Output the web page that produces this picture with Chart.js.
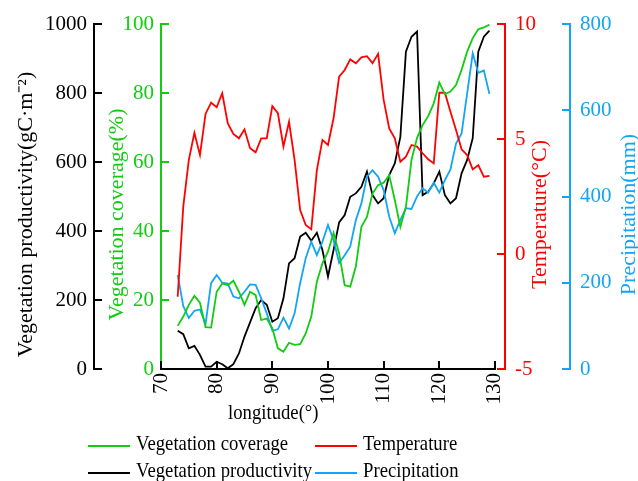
<!DOCTYPE html>
<html lang="en">
<head>
<meta charset="UTF-8">
<title>Vegetation, temperature and precipitation along longitude</title>
<script src="https://cdn.jsdelivr.net/npm/chart.js"></script>
<style>
  body { margin: 0; background: #fff; }
  #wrap { position: relative; width: 638px; height: 481px; overflow: hidden; font-family: "Liberation Serif", serif; }
  .txt { display: inline-block; font-size: 22px; line-height: 24px; transform: scaleX(0.85); transform-origin: left center; white-space: nowrap; }
  #xTitle { position: absolute; left: 228px; top: 400px; }
  .leg { position: absolute; white-space: nowrap; }
  .leg .line { display: inline-block; width: 42px; height: 2px; vertical-align: middle; margin-right: 6px; }
</style>
</head>
<body>
<div id="wrap">
  <canvas id="chart"></canvas>
  <div id="xTitle"><span class="txt">longitude(°)</span></div>
  <div class="leg" style="left:88px;top:431px"><span class="line" style="background:#11cc11"></span><span class="txt">Vegetation coverage</span></div>
  <div class="leg" style="left:315px;top:431px"><span class="line" style="background:#ff0000"></span><span class="txt">Temperature</span></div>
  <div class="leg" style="left:88px;top:458px"><span class="line" style="background:#000"></span><span class="txt">Vegetation productivity</span></div>
  <div class="leg" style="left:315px;top:458px"><span class="line" style="background:#12a5f4"></span><span class="txt">Precipitation</span></div>
</div>
<script>
// longitude of every sample
const longitude = [73, 74, 75, 76, 77, 78, 79, 80, 81, 82, 83, 84, 85, 86, 87, 88, 89, 90, 91, 92,
  93, 94, 95, 96, 97, 98, 99, 100, 101, 102, 103, 104, 105, 106, 107, 108, 109, 110, 111, 112,
  113, 114, 115, 116, 117, 118, 119, 120, 121, 122, 123, 124, 125, 126, 127, 128, 129];

// vegetation coverage (%)
const coverage = [12.5, 15.2, 18.6, 21.2, 19.2, 12.1, 12.0, 22.4, 24.8, 24.3, 25.6, 22.4, 18.6, 22.4, 21.4, 14.2, 14.6, 11.8, 6.0, 5.0,
  7.6, 7.0, 7.2, 10.3, 15.2, 25.3, 30.6, 34.0, 39.5, 33.5, 24.3, 23.9, 29.7, 41.2, 44.1, 50.9, 53.3, 54.0, 56.2, 49.0,
  41.2, 47.0, 60.6, 67.0, 70.7, 73.3, 77.0, 83.0, 79.7, 80.4, 82.3, 86.7, 92.0, 95.9, 98.5, 99.0, 99.8];

// temperature (°C)
const temperature = [-1.86, 2.06, 4.09, 5.27, 4.30, 6.09, 6.58, 6.38, 6.99, 5.68, 5.22, 5.03, 5.42, 4.60, 4.42, 5.03, 5.03, 6.43, 6.12, 4.67,
  5.75, 4.09, 1.91, 1.26, 1.07, 3.65, 4.96, 4.74, 5.90, 7.71, 8.00, 8.46, 8.29, 8.55, 8.60, 8.30, 8.70, 6.70, 5.46, 5.03,
  4.01, 4.23, 4.74, 4.67, 4.38, 4.12, 3.94, 7.01, 7.01, 6.19, 5.39, 4.55, 4.30, 3.68, 3.86, 3.36, 3.40];

// vegetation productivity (gC·m-2)
const productivity = [111, 101, 60, 67, 41, 7, 7, 21, 14, 2, 14, 45, 94, 135, 176, 200, 186, 137, 147, 205,
  306, 321, 384, 395, 372, 395, 345, 268, 345, 425, 446, 499, 509, 528, 572, 504, 480, 495, 562, 596,
  673, 920, 963, 978, 504, 514, 538, 572, 504, 480, 495, 567, 606, 669, 920, 963, 981];

// precipitation (mm)
const precipitation = [218, 146, 118, 135, 138, 104, 199, 218, 200, 198, 168, 164, 179, 196, 195, 164, 129, 89, 92, 119,
  94, 129, 199, 257, 295, 264, 295, 334, 299, 246, 264, 284, 345, 384, 446, 461, 446, 415, 353, 315,
  345, 373, 371, 400, 419, 409, 432, 409, 438, 463, 523, 546, 639, 732, 687, 692, 638];

const xTicks = [70, 80, 90, 100, 110, 120, 130];

const GREEN = '#11cc11', RED = '#ff0000', BLACK = '#000000', BLUE = '#12a5f4';
const FONT = { family: 'Liberation Serif', size: 21 };

function pts(vals) {
  return longitude.map((x, i) => ({ x: x, y: vals[i] }));
}

// axis titles are drawn by the plugin below (all read bottom-to-top)
function yAxis(pos, color, min, max, step, title, titleX, width, weight) {
  return {
    type: 'linear', position: pos, min: min, max: max, weight: weight,
    border: { display: true, color: color, width: 2 },
    grid: { display: false, drawTicks: false },
    ticks: { stepSize: step, color: color, font: FONT, padding: pos === 'left' ? 7 : 10, callback: v => String(v) },
    title: { display: false, text: title },
    titleX: titleX,
    afterFit: function (s) { s.width = width; }
  };
}

const axisDecor = {
  id: 'axisDecor',
  afterDraw(chart) {
    const ctx = chart.ctx;
    const area = chart.chartArea;
    ctx.save();
    ctx.lineWidth = 2;
    ['yProd', 'yCov', 'yTemp', 'yPrec'].forEach(id => {
      const s = chart.scales[id];
      const left = s.position === 'left';
      const x0 = left ? s.right : s.left;
      const color = s.options.border.color;
      ctx.strokeStyle = color;
      s.ticks.forEach(t => {
        const y = Math.round(s.getPixelForValue(t.value));
        ctx.beginPath();
        ctx.moveTo(x0, y);
        ctx.lineTo(x0 + (left ? 8 : -8), y);
        ctx.stroke();
      });
      // title
      ctx.save();
      ctx.translate(s.options.titleX, (area.top + area.bottom) / 2 + 18);
      ctx.rotate(-Math.PI / 2);
      ctx.fillStyle = color;
      ctx.font = '22px "Liberation Serif"';
      ctx.textAlign = 'center';
      ctx.textBaseline = 'middle';
      ctx.fillText(s.options.title.text, 0, 0);
      ctx.restore();
    });
    const xs = chart.scales.x;
    const y0 = xs.top;
    ctx.strokeStyle = BLACK;
    ctx.beginPath();
    ctx.moveTo(xs.getPixelForValue(xTicks[0]) - 1, y0);
    ctx.lineTo(xs.getPixelForValue(xTicks[xTicks.length - 1]) + 1, y0);
    ctx.stroke();
    xs.ticks.forEach(t => {
      const x = Math.round(xs.getPixelForValue(t.value));
      ctx.beginPath();
      ctx.moveTo(x, y0);
      ctx.lineTo(x, y0 - 8);
      ctx.stroke();
    });
    ctx.restore();
  }
};

const line = (label, vals, color, axis) => ({
  label: label, data: pts(vals), yAxisID: axis,
  borderColor: color, backgroundColor: color, borderWidth: 1.8,
  pointRadius: 0, tension: 0, fill: false
});

new Chart(document.getElementById('chart'), {
  type: 'line',
  data: {
    datasets: [
      line('Vegetation coverage', coverage, GREEN, 'yCov'),
      line('Temperature', temperature, RED, 'yTemp'),
      line('Precipitation', precipitation, BLUE, 'yPrec'),
      line('Vegetation productivity', productivity, BLACK, 'yProd')
    ]
  },
  options: {
    responsive: true,
    maintainAspectRatio: false,
    animation: false,
    layout: { padding: { top: 24, left: 0, right: 0, bottom: 0 } },
    plugins: { legend: { display: false }, tooltip: { enabled: false } },
    scales: {
      x: {
        type: 'linear', min: 70, max: 131.8,
        border: { display: false },
        grid: { display: false, drawTicks: false },
        afterBuildTicks: function (s) { s.ticks = xTicks.map(v => ({ value: v })); },
        ticks: { color: BLACK, font: FONT, minRotation: 90, maxRotation: 90, autoSkip: false, padding: 4 },
        afterFit: function (s) { s.height = 112; }
      },
      yProd: yAxis('left', BLACK, 0, 1000, 200, 'Vegetation productivity(gC·m⁻²)', 26, 94, 1),
      yCov: yAxis('left', GREEN, 0, 100, 20, 'Vegetation coverage(%)', 117, 67, 0),
      yTemp: yAxis('right', RED, -5, 10, 5, 'Temperature(°C)', 540, 65, 0),
      yPrec: yAxis('right', BLUE, 0, 800, 200, 'Precipitation(mm)', 629, 68, 1)
    }
  },
  plugins: [axisDecor]
});
</script>
</body>
</html>
